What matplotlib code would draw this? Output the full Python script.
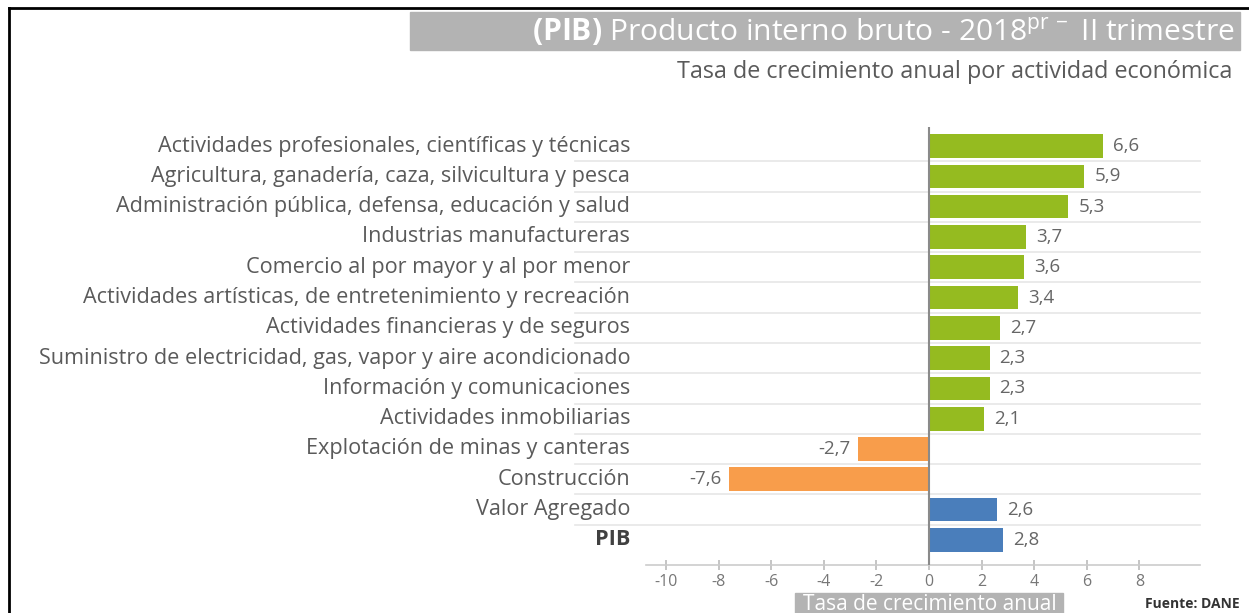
import matplotlib
matplotlib.use("Agg")
import matplotlib.pyplot as plt
from matplotlib.patches import Rectangle
from matplotlib.lines import Line2D

plt.rcParams['font.family'] = ['Open Sans', 'DejaVu Sans']
plt.rcParams['mathtext.fontset'] = 'custom'
plt.rcParams['mathtext.rm'] = 'Open Sans'
plt.rcParams['mathtext.bf'] = 'Open Sans:bold'

categorias = [
    "Actividades profesionales, científicas y técnicas",
    "Agricultura, ganadería, caza, silvicultura y pesca",
    "Administración pública, defensa, educación y salud",
    "Industrias manufactureras",
    "Comercio al por mayor y al por menor",
    "Actividades artísticas, de entretenimiento y recreación",
    "Actividades financieras y de seguros",
    "Suministro de electricidad, gas, vapor y aire acondicionado",
    "Información y comunicaciones",
    "Actividades inmobiliarias",
    "Explotación de minas y canteras",
    "Construcción",
    "Valor Agregado",
    "PIB",
]
valores = [6.6, 5.9, 5.3, 3.7, 3.6, 3.4, 2.7, 2.3, 2.3, 2.1, -2.7, -7.6, 2.6, 2.8]
agregados = ["Valor Agregado", "PIB"]
ticks = [-10, -8, -6, -4, -2, 0, 2, 4, 6, 8]

VERDE = "#95bb20"
NARANJA = "#f89d4b"
AZUL = "#4a7ebb"
GRIS_TXT = "#5a5a5a"

W, H = 1249, 613
fig = plt.figure(figsize=(W / 100, H / 100), dpi=100)

def fx(px):
    return px / W

def fy(py):
    return 1 - py / H

ax_left, ax_right, ax_top, ax_bot = 646, 1200, 127, 565
ax = fig.add_axes([fx(ax_left), fy(ax_bot), fx(ax_right - ax_left), (ax_bot - ax_top) / H])

colores = []
for c, v in zip(categorias, valores):
    if c in agregados:
        colores.append(AZUL)
    elif v < 0:
        colores.append(NARANJA)
    else:
        colores.append(VERDE)

ypos = list(range(len(categorias)))
ax.barh(ypos, valores, height=0.78, color=colores, zorder=2)
ax.set_xlim(-10.76, 10.3)
ax.set_ylim(len(categorias) - 0.17, -0.63)

# grid lines between rows, extending left under the labels
grid_x0 = (575 - ax_left) / (ax_right - ax_left)
for i in range(len(categorias) - 1):
    ax.axhline(i + 0.5, xmin=grid_x0, xmax=1.0, color="#e6e6e6", lw=1.2,
               clip_on=False, zorder=0)

ax.axvline(0, color="#8a8a8a", lw=1.5, zorder=3)

for s in ["top", "right", "left"]:
    ax.spines[s].set_visible(False)
ax.spines["bottom"].set_color("#cccccc")
ax.spines["bottom"].set_linewidth(1.2)
ax.set_xticks(ticks)
ax.set_xticklabels([str(t) for t in ticks])
ax.tick_params(axis="x", direction="inout", length=7, width=1.2, color="#bbbbbb",
               labelcolor="#777777", labelsize=11.5, pad=3)
ax.set_yticks([])

# category labels
for i, c in enumerate(categorias):
    bold = (c == "PIB")
    ax.text(-11.36, i, c, ha="right", va="center", fontsize=15.6,
            color="#404040" if bold else GRIS_TXT,
            fontweight="bold" if bold else "normal", clip_on=False, zorder=4)

# value labels
for i, v in enumerate(valores):
    lab = f"{v:.1f}".replace(".", ",")
    if v >= 0:
        ax.text(v + 0.38, i, lab, ha="left", va="center", fontsize=13.5, color="#666666")
    else:
        ax.text(v - 0.3, i, lab, ha="right", va="center", fontsize=13.5, color="#666666")

# title box
fig.patches.append(Rectangle((fx(410), fy(50)), fx(1240 - 410), (50 - 12) / H,
                             transform=fig.transFigure, color="#b3b3b3", zorder=0))
fig.text(fx(1235), fy(32), r"$\mathbf{(PIB)}$ Producto interno bruto - 2018$^{\mathrm{pr\,-}}$ II trimestre",
         ha="right", va="center", fontsize=21.6, color="white")
fig.text(fx(1232), fy(72), "Tasa de crecimiento anual por actividad económica",
         ha="right", va="center", fontsize=16.8, color=GRIS_TXT)

# x axis title box
fig.patches.append(Rectangle((fx(795), fy(H + 5)), fx(1063 - 795), (H + 5 - 593) / H,
                             transform=fig.transFigure, color="#b3b3b3", zorder=0))
fig.text(fx(930), fy(594), "Tasa de crecimiento anual", ha="center", va="top",
         fontsize=15, color="white")
fig.text(fx(1145), fy(597), "Fuente: DANE", ha="left", va="top", fontsize=10,
         color="#333333", fontweight="bold")

# border
fig.lines.append(Line2D([fx(9), fx(W)], [fy(8), fy(8)], transform=fig.transFigure,
                        color="black", lw=2))
fig.lines.append(Line2D([fx(9), fx(9)], [fy(8), fy(H)], transform=fig.transFigure,
                        color="black", lw=2))

fig.savefig("out.png", dpi=100)
